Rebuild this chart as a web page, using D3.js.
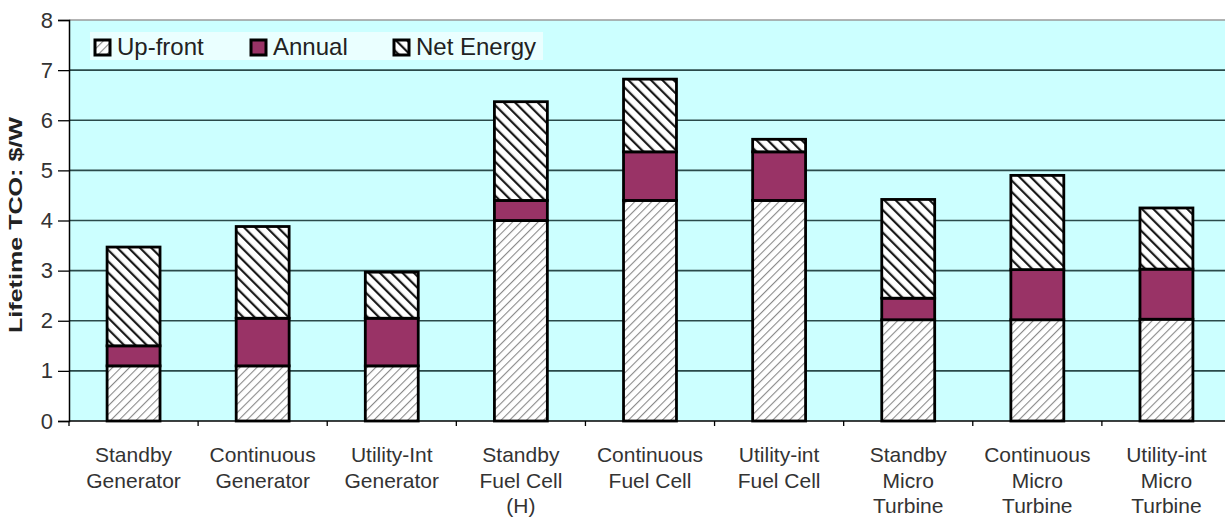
<!DOCTYPE html>
<html>
<head>
<meta charset="utf-8">
<script src="https://cdn.jsdelivr.net/npm/d3@7"></script>
<style>
  body { margin: 0; background: #fff; }
  svg { display: block; font-family: Arial, "Liberation Sans", sans-serif; }
</style>
</head>
<body>
<script>
// data ($/W)
var categories = [
  ["Standby", "Generator"], ["Continuous", "Generator"], ["Utility-Int", "Generator"],
  ["Standby", "Fuel Cell", "(H)"], ["Continuous", "Fuel Cell"], ["Utility-int", "Fuel Cell"],
  ["Standby", "Micro", "Turbine"], ["Continuous", "Micro", "Turbine"], ["Utility-int", "Micro", "Turbine"]
];
var upFront   = [1.1, 1.1, 1.1, 4.0, 4.4, 4.4, 2.02, 2.02, 2.03];
var annual    = [0.4, 0.95, 0.95, 0.4, 0.97, 0.97, 0.43, 1.0, 1.0];
var netEnergy = [1.97, 1.83, 0.92, 1.97, 1.45, 0.25, 1.97, 1.88, 1.22];
var seriesNames = ["Up-front", "Annual", "Net Energy"];
var yTicks = [0, 1, 2, 3, 4, 5, 6, 7, 8];

var margin = {top: 20, right: -6, bottom: 102, left: 69},
    width = 1225 - margin.left - margin.right,
    height = 523 - margin.top - margin.bottom;

var svg = d3.select("body").append("svg")
    .attr("width", 1225).attr("height", 523);

var defs = svg.append("defs");
// light up-front hatch
var p1 = defs.append("pattern").attr("id", "hUp")
    .attr("patternUnits", "userSpaceOnUse").attr("width", 6).attr("height", 6)
    .attr("patternTransform", "rotate(45)");
p1.append("rect").attr("width", 6).attr("height", 6).attr("fill", "#fff");
p1.append("line").attr("x1", 0).attr("y1", 0).attr("x2", 0).attr("y2", 6)
    .attr("stroke", "#8a8a8a").attr("stroke-width", 2.2);
// heavy net energy hatch
var p2 = defs.append("pattern").attr("id", "hNet")
    .attr("patternUnits", "userSpaceOnUse").attr("width", 8).attr("height", 8)
    .attr("patternTransform", "rotate(-45)");
p2.append("rect").attr("width", 8).attr("height", 8).attr("fill", "#fff");
p2.append("line").attr("x1", 0).attr("y1", 0).attr("x2", 0).attr("y2", 8)
    .attr("stroke", "#1a1a1a").attr("stroke-width", 4.4);

var fills = ["url(#hUp)", "#993366", "url(#hNet)"];

var g = svg.append("g").attr("transform", "translate(" + margin.left + "," + margin.top + ")");

var x = d3.scaleBand().domain(d3.range(categories.length)).range([0, width]).paddingInner(0.59).paddingOuter(0.295);
var x0 = d3.scaleBand().domain(d3.range(categories.length)).range([0, width]);
var y = d3.scaleLinear().domain([0, 8]).range([height, 0]);

g.append("rect").attr("width", width).attr("height", height).attr("fill", "#ccffff");

// gridlines
g.selectAll(".grid").data(yTicks.slice(1)).enter().append("line")
    .attr("x1", 0).attr("x2", width)
    .attr("y1", function(d) { return y(d); }).attr("y2", function(d) { return y(d); })
    .attr("stroke", d => d === 8 ? "#9a9a9a" : "#2a4a4a").attr("stroke-width", 1.6);

// stacks
var rows = categories.map(function(c, i) {
  return {i: i, "Up-front": upFront[i], "Annual": annual[i], "Net Energy": netEnergy[i]};
});
var stack = d3.stack().keys(seriesNames)(rows);

stack.forEach(function(layer, k) {
  g.selectAll(".s" + k).data(layer).enter().append("rect")
    .attr("x", function(d) { return x(d.data.i); })
    .attr("width", x.bandwidth())
    .attr("y", function(d) { return y(d[1]); })
    .attr("height", function(d) { return y(d[0]) - y(d[1]); })
    .attr("fill", fills[k])
    .attr("stroke", "#000").attr("stroke-width", 2.8);
});

// y axis
var yAxis = g.append("g").call(d3.axisLeft(y).tickValues(yTicks).tickSize(11).tickPadding(5).tickFormat(d3.format("d")));
yAxis.select(".domain").attr("stroke", "#000").attr("stroke-width", 1.5);
yAxis.selectAll(".tick line").attr("stroke", "#000").attr("stroke-width", 1.3);
yAxis.selectAll("text").attr("font-size", 22).attr("fill", "#333");

// x axis
var xAxis = g.append("g").attr("transform", "translate(0," + height + ")");
xAxis.append("line").attr("x1", 0).attr("x2", width).attr("stroke", "#000").attr("stroke-width", 1.5);
xAxis.selectAll(".xt").data(d3.range(categories.length + 1)).enter().append("line")
    .attr("x1", function(d) { return d * x0.step(); }).attr("x2", function(d) { return d * x0.step(); })
    .attr("y1", 0).attr("y2", 5).attr("stroke", "#000").attr("stroke-width", 1.3);
var labels = xAxis.selectAll(".xl").data(categories).enter().append("text")
    .attr("x", function(d, i) { return x0(i) + x0.bandwidth() / 2; })
    .attr("y", 41).attr("text-anchor", "middle").attr("font-size", 21).attr("fill", "#333");
labels.selectAll("tspan").data(function(d) { return d; }).enter().append("tspan")
    .attr("x", function() { return d3.select(this.parentNode).attr("x"); })
    .attr("dy", function(d, j) { return j === 0 ? 0 : 25.5; })
    .text(function(d) { return d; });

// y title
svg.append("text")
    .attr("transform", "translate(22,225) rotate(-90)")
    .attr("text-anchor", "middle").attr("font-size", 19).attr("font-weight", "bold").attr("fill", "#222")
    .attr("textLength", 216).attr("lengthAdjust", "spacingAndGlyphs")
    .text("Lifetime TCO: $/W");

// legend
var legend = svg.append("g").attr("transform", "translate(90,32)");
legend.append("rect").attr("width", 453).attr("height", 28).attr("fill", "#eaffff");
var lx = [5, 161, 304];
seriesNames.forEach(function(s, k) {
  var it = legend.append("g").attr("transform", "translate(" + lx[k] + ",8)");
  it.append("rect").attr("width", 15).attr("height", 15).attr("fill", fills[k])
    .attr("stroke", "#000").attr("stroke-width", 3);
  it.append("text").attr("x", 22).attr("y", 15).attr("font-size", 24).attr("fill", "#222").text(s);
});
</script>
</body>
</html>
